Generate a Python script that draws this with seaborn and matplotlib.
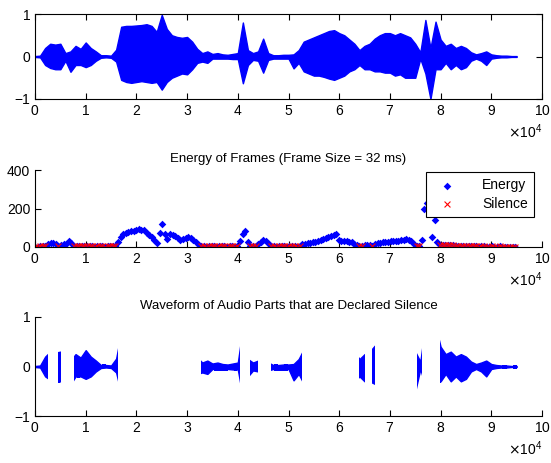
import numpy as np
import pandas as pd
import matplotlib
matplotlib.use('Agg')
import matplotlib.pyplot as plt
import seaborn as sns
from matplotlib.path import Path
from matplotlib.patches import PathPatch

# ==========================================
# data
# ==========================================
# waveform envelope, one value every 1000 samples (0 .. 95000)
WAVE_UPPER = [
    0.01, 0.02, 0.20, 0.30, 0.28, 0.30, 0.08, 0.12, 0.25, 0.18,
    0.33, 0.20, 0.12, 0.03, 0.03, 0.02, 0.16, 0.70, 0.72, 0.72,
    0.73, 0.74, 0.76, 0.72, 0.58, 0.98, 0.65, 0.50, 0.46, 0.44,
    0.46, 0.35, 0.18, 0.08, 0.12, 0.06, 0.08, 0.05, 0.04, 0.06,
    0.08, 0.80, 0.15, 0.08, 0.12, 0.42, 0.08, 0.03, 0.03, 0.04,
    0.04, 0.05, 0.15, 0.35, 0.40, 0.45, 0.50, 0.55, 0.60, 0.62,
    0.55, 0.50, 0.40, 0.30, 0.15, 0.25, 0.30, 0.42, 0.50, 0.55,
    0.55, 0.50, 0.55, 0.50, 0.45, 0.30, 0.10, 0.86, 0.20, 0.82,
    0.40, 0.25, 0.30, 0.20, 0.25, 0.20, 0.10, 0.05, 0.08, 0.12,
    0.05, 0.03, 0.02, 0.02, 0.01, 0.01,
]
WAVE_LOWER = [
    -0.01, -0.02, -0.20, -0.27, -0.30, -0.30, -0.10, -0.36, -0.20, -0.20,
    -0.25, -0.20, -0.10, -0.03, -0.02, -0.03, -0.12, -0.55, -0.60, -0.62,
    -0.60, -0.58, -0.60, -0.62, -0.60, -0.78, -0.60, -0.50, -0.45, -0.40,
    -0.42, -0.30, -0.15, -0.12, -0.15, -0.05, -0.05, -0.05, -0.05, -0.06,
    -0.06, -0.63, -0.20, -0.08, -0.10, -0.38, -0.08, -0.05, -0.05, -0.05,
    -0.05, -0.28, -0.15, -0.35, -0.40, -0.45, -0.45, -0.48, -0.52, -0.55,
    -0.50, -0.45, -0.35, -0.30, -0.20, -0.30, -0.30, -0.35, -0.35, -0.38,
    -0.38, -0.45, -0.42, -0.50, -0.50, -0.50, -0.05, -0.40, -1.00, -0.30,
    -0.30, -0.15, -0.30, -0.20, -0.30, -0.25, -0.10, -0.05, -0.10, -0.20,
    -0.05, -0.03, -0.02, -0.02, -0.01, -0.01,
]

# energy of each 32 ms frame (512 samples)
ENERGY = [
    2, 2, 3, 3, 6,
    18, 22, 22, 18,
    5,
    12, 15, 18, 30, 20,
    6, 3, 4, 3, 5, 6, 4, 3, 2, 3, 4, 3, 2, 3, 4, 3, 5,
    25, 50, 65, 75, 80, 82, 85, 88, 92, 90, 88, 75, 62, 50, 36,
    22, 72, 118,
    70, 40, 68, 62, 55, 48, 38, 40, 48, 50, 45, 38, 25, 12,
    5, 3, 2, 3, 4, 3, 2, 3, 4, 3, 2, 4, 3, 2, 4,
    30, 65, 85, 28,
    4, 3, 4,
    15, 28, 35, 30, 18,
    5, 3, 2, 3, 4, 3, 2, 3, 4, 3, 2, 4,
    15, 18, 20, 22, 25, 28, 32, 38, 42, 45, 50, 55, 60, 65,
    38, 32, 30, 32, 28, 25, 18, 10,
    4, 3,
    10, 12, 8,
    4,
    15, 20, 22, 25, 25, 28, 30, 32, 30, 33, 35, 38, 40, 38, 30, 15,
    5, 3,
    35, 195, 230, 360, 50, 142, 25,
    8, 10, 12, 9, 11, 8, 7, 6, 5, 4, 4, 3, 3, 4, 3, 2, 3, 3, 2, 2,
    3, 2, 2, 3, 2, 2, 2, 1, 1, 1,
]

# frames declared silence (first, last)
SILENT_RANGES = [(0, 4), (9, 9), (15, 31), (64, 78), (83, 85), (91, 102),
                 (125, 126), (130, 130), (147, 148), (156, 185)]

FRAME = 512
WAVE_STEP = 1000

# ==========================================
# style
# ==========================================
sns.set_style('ticks')
plt.rcParams['font.family'] = ['Liberation Sans', 'DejaVu Sans']
plt.rcParams['xtick.direction'] = 'in'
plt.rcParams['ytick.direction'] = 'in'
plt.rcParams['axes.edgecolor'] = 'black'
plt.rcParams['axes.linewidth'] = 0.8
plt.rcParams['text.color'] = 'black'
plt.rcParams['xtick.color'] = 'black'
plt.rcParams['ytick.color'] = 'black'
plt.rcParams['xtick.labelsize'] = 10
plt.rcParams['ytick.labelsize'] = 10
plt.rcParams['xtick.major.size'] = 4
plt.rcParams['ytick.major.size'] = 4

wave_x = np.arange(len(WAVE_UPPER)) * WAVE_STEP
silent = np.zeros(len(ENERGY), dtype=bool)
for a, b in SILENT_RANGES:
    silent[a:b + 1] = True
df = pd.DataFrame({'x': np.arange(len(ENERGY)) * FRAME, 'energy': ENERGY, 'silent': silent})

W, H = 551, 463
fig = plt.figure(figsize=(W / 100, H / 100), dpi=100)
ax1 = fig.add_axes([35 / W, 1 - 99 / H, 507 / W, 85 / H])
ax2 = fig.add_axes([35 / W, 1 - 247 / H, 507 / W, 77 / H])
ax3 = fig.add_axes([35 / W, 1 - 416 / H, 507 / W, 99 / H])


def format_x(ax):
    ax.set_xlim(0, 100000)
    ax.set_xticks(np.arange(0, 100001, 10000))
    ax.ticklabel_format(axis='x', style='sci', scilimits=(4, 4), useMathText=True)
    ax.xaxis.get_offset_text().set_fontsize(10)
    ax.set_xlabel('')
    ax.set_ylabel('')


# 1. full waveform
ax1.fill_between(wave_x, WAVE_LOWER, WAVE_UPPER, color='blue', linewidth=1)
ax1.set_ylim(-1, 1)
ax1.set_yticks([-1, 0, 1])
ax1.tick_params(top=True, right=True)
format_x(ax1)

# 2. frame energy
sns.scatterplot(data=df, x='x', y='energy', marker='D', color='blue', s=15,
                linewidth=0, label='Energy', ax=ax2)
sns.scatterplot(data=df[df['silent']], x='x', y='energy', marker='x', color='red',
                s=18, linewidth=0.8, label='Silence', ax=ax2)
ax2.set_ylim(0, 400)
ax2.set_yticks([0, 200, 400])
sns.despine(ax=ax2)
format_x(ax2)
ax2.set_title('Energy of Frames (Frame Size = 32 ms)', fontsize=9.5)
leg = ax2.legend(loc='upper right', bbox_to_anchor=(1 - 8 / 507, 1 - 2 / 77),
                 borderaxespad=0, frameon=True, fancybox=False, framealpha=1,
                 edgecolor='black', fontsize=10, handlelength=2.2,
                 handletextpad=1.4, borderpad=0.45, labelspacing=0.35)
leg.get_frame().set_linewidth(0.8)

# 3. silent parts of the waveform
fill3 = ax3.fill_between(wave_x, WAVE_LOWER, WAVE_UPPER, color='blue', linewidth=1)
rects = []
for a, b in SILENT_RANGES:
    x0, x1 = a * FRAME, (b + 1) * FRAME
    rects.append(Path([(x0, -1.2), (x1, -1.2), (x1, 1.2), (x0, 1.2), (x0, -1.2)], closed=True))
clip = PathPatch(Path.make_compound_path(*rects), transform=ax3.transData)
fill3.set_clip_path(clip)
ax3.set_ylim(-1, 1)
ax3.set_yticks([-1, 0, 1])
sns.despine(ax=ax3)
format_x(ax3)
ax3.set_title('Waveform of Audio Parts that are Declared Silence', fontsize=9.5)

fig.savefig('out.png', dpi=100)
